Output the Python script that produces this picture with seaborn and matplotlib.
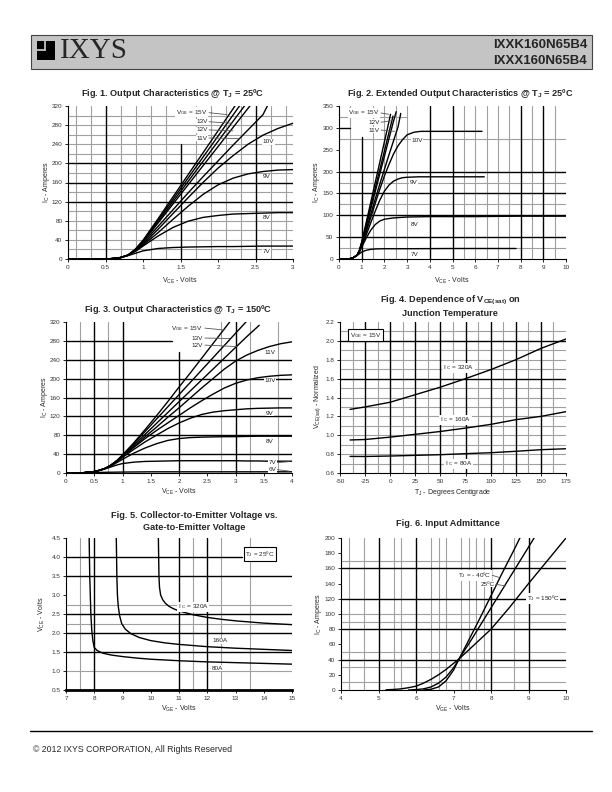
import pandas as pd
import matplotlib
matplotlib.use("Agg")
import matplotlib.pyplot as plt
import seaborn as sns
from matplotlib.patches import Rectangle
from matplotlib.lines import Line2D
from matplotlib.ticker import FuncFormatter

# ========== DATA ==========
# Fig. 1 - output characteristics @ 25C (VCE volts -> IC amperes)
F1_NAMES = ["15V", "14V", "13V", "12V", "11V", "10V", "9V", "8V", "7V"]
F1_X_BUNDLE = [0, 0.5, 0.6, 0.7, 0.8, 0.9, 1.0, 1.2, 1.4, 1.6, 1.8, 2.0, 2.2]
F1_X_FULL = [0, 0.5, 0.6, 0.7, 0.8, 0.9, 1.0, 1.2, 1.4, 1.6, 1.8, 2.0, 2.2, 2.4, 2.6, 2.8, 3.0]
F1_X = [F1_X_BUNDLE + [2.25], F1_X_BUNDLE + [2.3], F1_X_BUNDLE + [2.4], F1_X_BUNDLE + [2.4, 2.45],
        F1_X_BUNDLE + [2.4, 2.6, 2.7], F1_X_FULL, F1_X_FULL, F1_X_FULL, F1_X_FULL]
F1_I = [
    [0, 0, 1, 3, 8, 21, 39, 84, 130, 176, 222, 268, 314, 326],
    [0, 0, 1, 3, 8, 20, 38, 81, 125, 169, 213, 257, 301, 323],
    [0, 0, 1, 3, 8, 20, 37, 78, 120, 162, 204, 246, 288, 330],
    [0, 0, 1, 3, 8, 19, 36, 75, 115, 155, 195, 235, 275, 315, 325],
    [0, 0, 1, 3, 8, 19, 34, 68, 103, 138, 172, 205, 238, 270, 302, 333],
    [0, 0, 1, 3, 8, 18, 31, 62, 95, 128, 160, 190, 216, 240, 259, 273, 284],
    [0, 0, 1, 3, 8, 17, 29, 55, 83, 110, 135, 155, 169, 178, 183, 186, 187],
    [0, 0, 1, 3, 8, 16, 27, 48, 66, 79, 87, 91, 94, 95, 96, 97, 97],
    [0, 0, 1, 3, 7, 12, 17, 22, 24, 25, 25.5, 26, 26, 26.5, 27, 27, 27],
]

# Fig. 2 - extended output characteristics @ 25C
F2_NAMES = ["15V", "13V", "12V", "11V", "10V", "9V", "8V", "7V"]
F2_X_B = [0, 0.4, 0.6, 0.8, 0.9, 1.0, 1.2, 1.4, 1.6, 1.8, 2.0, 2.2]
F2_X = [
    F2_X_B + [2.27],
    F2_X_B + [2.38],
    F2_X_B + [2.4, 2.52],
    F2_X_B + [2.4, 2.6, 2.72],
    F2_X_B + [2.4, 2.6, 2.8, 3.0, 3.3, 3.6, 4.0, 5.0, 6.3],
    F2_X_B + [2.4, 2.6, 2.8, 3.0, 3.5, 4.0, 5.0, 6.4],
    [0, 0.4, 0.6, 0.8, 0.9, 1.0, 1.2, 1.4, 1.6, 1.8, 2.0, 2.4, 3.0, 4.0, 6.0, 8.0, 10.0],
    [0, 0.4, 0.6, 0.8, 0.9, 1.0, 1.2, 1.4, 1.6, 2.0, 3.0, 5.0, 7.8],
]
F2_I = [
    [0, 0, 2, 9, 20, 39, 84, 130, 176, 222, 268, 314, 331],
    [0, 0, 2, 9, 20, 37, 79, 121, 163, 205, 247, 289, 327],
    [0, 0, 2, 9, 19, 36, 75, 115, 155, 195, 235, 275, 315, 337],
    [0, 0, 2, 9, 19, 34, 68, 103, 138, 172, 205, 238, 270, 302, 333],
    [0, 0, 2, 9, 18, 31, 62, 95, 128, 160, 190, 216, 240, 259, 273, 284, 290, 292, 292, 292, 292],
    [0, 0, 2, 9, 17, 29, 55, 83, 110, 135, 155, 169, 178, 183, 186, 187, 188, 188, 188, 188],
    [0, 0, 2, 9, 16, 27, 48, 66, 79, 87, 91, 94, 96, 97, 97, 98, 98],
    [0, 0, 2, 8, 12, 16, 20, 22, 23, 23.5, 23.5, 24, 24],
]

# Fig. 3 - output characteristics @ 150C
F3_NAMES = ["15V", "13V", "12V", "11V", "10V", "9V", "8V", "7V", "6V"]
F3_X_FULL = [0, 0.3, 0.5, 0.6, 0.7, 0.8, 0.9, 1.0, 1.2, 1.4, 1.6, 1.8, 2.0, 2.2, 2.4, 2.6,
             2.8, 3.0, 3.2, 3.4, 3.6, 3.8, 4.0]
F3_X = [F3_X_FULL[:18], F3_X_FULL[:19], F3_X_FULL[:19] + [3.42], F3_X_FULL, F3_X_FULL,
        F3_X_FULL, F3_X_FULL, F3_X_FULL, [0, 0.3, 0.5, 0.7, 1.0, 1.5, 2.0, 3.0, 4.0]]
F3_I = [
    [0, 0.5, 3, 6, 10, 17, 26, 38, 64, 92, 121, 151, 182, 212, 243, 274, 305, 336],
    [0, 0.5, 3, 6, 10, 17, 26, 38, 62, 88, 114, 140, 166, 192, 218, 244, 270, 296, 322],
    [0, 0.5, 3, 6, 10, 17, 26, 37, 59, 82, 105, 128, 151, 174, 197, 220, 243, 266, 289, 313],
    [0, 0.5, 3, 6, 10, 17, 26, 36, 56, 77, 97, 118, 138, 159, 180, 200, 220, 237, 250, 260, 268, 274, 278],
    [0, 0.5, 3, 6, 10, 17, 25, 35, 54, 73, 90, 106, 122, 138, 153, 167, 180, 190, 197, 202, 205, 207, 208],
    [0, 0.5, 3, 6, 10, 16, 24, 33, 50, 66, 80, 94, 106, 116, 124, 129, 132, 134, 136, 137, 137.5, 138, 138],
    [0, 0.5, 3, 6, 10, 15, 22, 29, 42, 53, 62, 69, 73, 75, 76, 76.5, 77, 77, 77.5, 78, 78, 78, 78],
    [0, 0.5, 3, 5.5, 9, 13, 17, 20, 23, 24.5, 25, 25.5, 26, 26, 26, 26, 26, 26, 25.5, 25.5, 25, 25, 25],
    [0, 0.5, 1, 1.5, 2, 2.5, 2.5, 2.5, 2.5],
]

# Fig. 4 - VCE(sat) normalized vs junction temperature
F4_T = [-40, -25, 0, 25, 50, 75, 100, 125, 150, 175]
F4_NAMES = ["320A", "160A", "80A"]
F4_V = [
    [1.274, 1.30, 1.35, 1.43, 1.51, 1.60, 1.695, 1.80, 1.92, 2.02],
    [0.95, 0.955, 0.98, 1.01, 1.04, 1.076, 1.115, 1.165, 1.20, 1.25],
    [0.776, 0.775, 0.78, 0.787, 0.794, 0.805, 0.815, 0.83, 0.847, 0.857],
]

# Fig. 5 - VCE vs VGE
F5_NAMES = ["320A", "160A", "80A"]
F5_VGE = [
    [10.27, 10.28, 10.29, 10.31, 10.35, 10.42, 10.52, 10.65, 10.8, 11.0, 11.5, 12.0, 12.5, 13.0, 14.0, 15.0],
    [8.78, 8.79, 8.8, 8.82, 8.85, 8.9, 8.97, 9.1, 9.3, 9.6, 10.0, 10.5, 11.0, 12.0, 13.0, 14.0, 15.0],
    [7.82, 7.83, 7.84, 7.86, 7.88, 7.91, 7.95, 8.0, 8.1, 8.3, 8.6, 9.0, 9.5, 10.0, 11.0, 12.0, 13.0, 14.0, 15.0],
]
F5_VCE = [
    [4.5, 4.0, 3.5, 3.2, 3.0, 2.88, 2.78, 2.7, 2.64, 2.58, 2.48, 2.41, 2.36, 2.32, 2.26, 2.22],
    [4.5, 4.0, 3.5, 3.0, 2.7, 2.45, 2.25, 2.1, 1.98, 1.88, 1.8, 1.74, 1.7, 1.64, 1.6, 1.57, 1.54],
    [4.5, 4.0, 3.5, 3.0, 2.5, 2.1, 1.8, 1.62, 1.54, 1.47, 1.42, 1.38, 1.34, 1.31, 1.27, 1.24, 1.22, 1.2, 1.18],
]

# Fig. 6 - input admittance
F6_NAMES = ["-40C", "25C", "150C"]
F6_VGE = [
    [6.2, 6.4, 6.6, 6.8, 7.0, 7.15, 7.4, 7.7, 8.0, 8.3, 8.6, 8.8],
    [5.8, 6.0, 6.2, 6.4, 6.6, 6.8, 7.0, 7.15, 7.5, 8.0, 8.5, 9.0, 9.2],
    [5.2, 5.4, 5.6, 5.8, 6.0, 6.2, 6.4, 6.6, 6.8, 7.0, 7.15, 7.5, 8.0, 8.5, 9.0, 9.5, 10.0],
]
F6_IC = [
    [0, 1, 4, 12, 26, 41, 65, 94, 124, 154, 183, 203],
    [0, 0.5, 1.5, 4, 9, 17, 29, 41, 68, 108, 148, 188, 204],
    [0.3, 0.7, 1.5, 3, 5, 9, 14, 20, 27, 35, 41, 57, 80, 109, 140, 170, 200],
]

# ========== STYLE ==========
sns.set_style("white")
plt.rcParams["font.family"] = ["Liberation Sans", "DejaVu Sans"]
plt.rcParams["mathtext.default"] = "regular"
NARROW = ["Liberation Sans Narrow", "Liberation Sans", "DejaVu Sans"]
GRAY = "#a0a0a0"
TICK_COLOR = "#333333"

W, H = 612, 792
fig = plt.figure(figsize=(W / 100, H / 100), dpi=100)


def fx(x):
    return x / W


def fy(y):
    return 1 - y / H


def axes_px(l, t, r, b):
    return fig.add_axes([fx(l), fy(b), (r - l) / W, (b - t) / H])


def draw_curves(ax, names, xs, ys):
    frames = [pd.DataFrame({"x": x, "y": y, "curve": n}) for n, x, y in zip(names, xs, ys)]
    df = pd.concat(frames, ignore_index=True)
    sns.lineplot(data=df, x="x", y="y", hue="curve", estimator=None, sort=False,
                 palette=["black"] * len(names), legend=False, lw=1.0, ax=ax, zorder=3)


def grid(ax, gx=(), bx=(), gy=(), by=()):
    # entries are value or (value, lo, hi) in axes fraction
    def unpack(v):
        return v if isinstance(v, tuple) else (v, 0, 1)
    for v in gx:
        p, lo, hi = unpack(v)
        ax.axvline(p, ymin=lo, ymax=hi, color=GRAY, lw=0.8, zorder=0)
    for v in gy:
        p, lo, hi = unpack(v)
        ax.axhline(p, xmin=lo, xmax=hi, color=GRAY, lw=0.8, zorder=0)
    for v in bx:
        p, lo, hi = unpack(v)
        ax.axvline(p, ymin=lo, ymax=hi, color="black", lw=1.0, zorder=1)
    for v in by:
        p, lo, hi = unpack(v)
        ax.axhline(p, xmin=lo, xmax=hi, color="black", lw=1.0, zorder=1)


def style(ax, xlim, ylim, xt, yt, xfmt="{:g}", yfmt="{:g}"):
    ax.set_xlim(xlim)
    ax.set_ylim(ylim)
    ax.set_xticks(xt)
    ax.set_yticks(yt)
    ax.xaxis.set_major_formatter(FuncFormatter(lambda v, p: xfmt.format(v)))
    ax.yaxis.set_major_formatter(FuncFormatter(lambda v, p: yfmt.format(v)))
    ax.tick_params(labelsize=4.6, length=2, width=0.6, colors="black",
                   labelcolor=TICK_COLOR, pad=2, bottom=True, left=True)
    for s in ("top", "right"):
        ax.spines[s].set_visible(False)
    for s in ("left", "bottom"):
        ax.spines[s].set_color("black")
        ax.spines[s].set_linewidth(0.8)
    ax.set_xlabel("")
    ax.set_ylabel("")
    ax.set_facecolor("white")


def label(ax, x, y, s, ha="center", box=False):
    bb = dict(facecolor="white", edgecolor="black" if box else "none",
              pad=1.2 if box else 0.4, lw=0.8)
    ax.text(x, y, s, ha=ha, va="center", fontsize=4.6, color="#222222", bbox=bb, zorder=4)


def leader(ax, start, end):
    ax.annotate("", xy=end, xytext=start,
                arrowprops=dict(arrowstyle="-", lw=0.6, color="#555555", shrinkA=0, shrinkB=0),
                zorder=4)


def ftext(x, y, s, size=5, **kw):
    fig.text(fx(x), fy(y), s, fontsize=size, va="center", **kw)


def title(x, y, s):
    ftext(x, y, s, size=6.6, ha="center", weight="bold", family=NARROW)


# ========== HEADER ==========
fig.add_artist(Rectangle((fx(31), fy(69)), (592 - 31) / W, (69 - 35) / H,
                         transform=fig.transFigure, facecolor="#c4c4c4",
                         edgecolor="#444444", lw=0.8))
fig.add_artist(Rectangle((fx(37), fy(59.5)), 18 / W, 18.5 / H, transform=fig.transFigure,
                         facecolor="black", edgecolor="none"))
fig.add_artist(Line2D([fx(45), fx(45)], [fy(41), fy(49.5)], transform=fig.transFigure,
                      color="#c4c4c4", lw=1.3))
fig.add_artist(Line2D([fx(37), fx(45)], [fy(49.5), fy(49.5)], transform=fig.transFigure,
                      color="#c4c4c4", lw=1.3))
fig.text(fx(60), fy(51), "IXYS", fontsize=21, family=["Liberation Serif", "DejaVu Serif"],
         va="center", ha="left")
ftext(587, 45, "IXXK160N65B4", size=9.5, ha="right", weight="bold")
ftext(587, 61, "IXXX160N65B4", size=9.5, ha="right", weight="bold")

# ========== FIG 1 ==========
ax1 = axes_px(68, 106, 293, 259)
grid(ax1,
     gx=[0.1, 0.3, 0.7, 0.9, 1.1, 1.3, 1.7, 1.9, 2.1, 2.3, 2.7, 2.9],
     bx=[0.5, 2.5, (1.5, 0, 0.75)],
     gy=[20, 40, 60, 80, 100, 140, 180, 220, 240, 260, 280, 300],
     by=[120, 160, 200])
draw_curves(ax1, F1_NAMES, F1_X, F1_I)
style(ax1, (0, 3), (0, 320), [0, 0.5, 1, 1.5, 2, 2.5, 3], range(0, 321, 40))
label(ax1, 1.86, 307, "V$_{GE}$ = 15V", ha="right")
label(ax1, 1.86, 287, "13V", ha="right")
label(ax1, 1.86, 270, "12V", ha="right")
label(ax1, 1.86, 253, "11V", ha="right")
leader(ax1, (1.88, 306), (2.12, 302))
leader(ax1, (1.88, 287), (2.18, 284))
leader(ax1, (1.88, 270), (2.2, 268))
leader(ax1, (1.88, 253), (2.28, 252))
label(ax1, 2.67, 245, "10V")
label(ax1, 2.65, 172, "9V")
label(ax1, 2.65, 86, "8V")
label(ax1, 2.65, 15, "7V")
title(172, 93, r"Fig. 1. Output Characteristics @ T$_J$ = 25ºC")
ftext(46, 182, "I$_C$ - Amperes", rotation=90, ha="center")
ftext(180, 281, "V$_{CE}$ - Volts", ha="center")

# ========== FIG 2 ==========
ax2 = axes_px(339, 106, 566, 259)
grid(ax2,
     gx=[0.5, 1.5, 2, 2.5, 3, 5.5, 6, 6.5, 7, 7.5, 8.5, 9.5],
     bx=[(1, 0, 0.8), 4, 5, 8, 9],
     gy=[25, 125, 175, 275, (325, 0, 0.3)],
     by=[50, 100, 150, 200, (300, 0, 0.05)])
draw_curves(ax2, F2_NAMES, F2_X, F2_I)
style(ax2, (0, 10), (0, 350), range(0, 11), range(0, 351, 50))
label(ax2, 1.8, 334, "V$_{GE}$ = 15V", ha="right")
label(ax2, 1.8, 313, "12V", ha="right")
label(ax2, 1.8, 295, "11V", ha="right")
leader(ax2, (1.85, 334), (2.2, 331))
leader(ax2, (1.85, 313), (2.32, 316))
leader(ax2, (1.85, 295), (2.45, 292))
label(ax2, 3.43, 272, "10V")
label(ax2, 3.3, 174, "9V")
label(ax2, 3.35, 80, "8V")
label(ax2, 3.35, 10, "7V")
title(460, 93, r"Fig. 2. Extended Output Characteristics @ T$_J$ = 25ºC")
ftext(316, 182, "I$_C$ - Amperes", rotation=90, ha="center")
ftext(452, 281, "V$_{CE}$ - Volts", ha="center")

# ========== FIG 3 ==========
ax3 = axes_px(66, 322, 292, 473)
grid(ax3,
     gx=[0.25, 0.75, 2.75, 3.25, 3.75],
     bx=[0.5, 1.0, 3.0, (2.0, 0, 0.8)],
     by=[40, 80, 120, 160, 200, 240, (280, 0, 0.47)])
draw_curves(ax3, F3_NAMES, F3_X, F3_I)
style(ax3, (0, 4), (0, 320), [0, 0.5, 1, 1.5, 2, 2.5, 3, 3.5, 4], range(0, 321, 40))
label(ax3, 2.42, 307, "V$_{GE}$ = 15V", ha="right")
label(ax3, 2.42, 286, "13V", ha="right")
label(ax3, 2.42, 271, "12V", ha="right")
leader(ax3, (2.46, 307), (2.8, 303))
leader(ax3, (2.46, 286), (2.9, 285))
leader(ax3, (2.46, 271), (3.02, 268))
label(ax3, 3.61, 256, "11V")
label(ax3, 3.61, 195, "10V")
label(ax3, 3.61, 127, "9V")
label(ax3, 3.61, 66, "8V")
label(ax3, 3.65, 22, "7V")
label(ax3, 3.65, 7, "6V")
leader(ax3, (3.74, 22), (3.95, 24))
leader(ax3, (3.74, 7), (3.95, 4))
title(178, 310, r"Fig. 3. Output Characteristics @ T$_J$ = 150ºC")
ftext(45, 397, "I$_C$ - Amperes", rotation=90, ha="center")
ftext(179, 492, "V$_{CE}$ - Volts", ha="center")

# ========== FIG 4 ==========
ax4 = axes_px(340, 322, 566, 473)
grid(ax4,
     gx=[-37.5, -12.5, 12.5, 37.5, 62.5, 87.5, 112.5, 137.5, 162.5],
     bx=[-25, 0, 25, 50, 75, 100, 125, 150],
     gy=[0.7, 0.8, 0.9, 1.0, 1.1, 1.2, 1.3, 1.4, 1.5, 1.7, 1.8, 1.9, 2.1],
     by=[1.6, 2.0])
draw_curves(ax4, F4_NAMES, [F4_T] * 3, F4_V)
style(ax4, (-50, 175), (0.6, 2.2), range(-50, 176, 25), [0.6 + 0.2 * k for k in range(9)],
      yfmt="{:.1f}")
label(ax4, -40, 2.06, "V$_{GE}$ = 15V", ha="left", box=True)
label(ax4, 68, 1.716, "I $_C$ = 320A")
label(ax4, 65, 1.165, "I $_C$ = 160A")
label(ax4, 68, 0.70, "I $_C$ = 80A")
title(450, 300, r"Fig. 4. Dependence of V$_{CE(sat)}$ on")
title(450, 313, "Junction Temperature")
ftext(318, 397, "V$_{CE(sat)}$ - Normalized", rotation=90, ha="center")
ftext(453, 492, "T$_J$ - Degrees Centigrade", ha="center")

# ========== FIG 5 ==========
ax5 = axes_px(66, 538, 292, 690)
grid(ax5,
     gx=[7.5, 11.5, 12.5, 13.5],
     bx=[8, 11, 12],
     gy=[1.0, 2.25, 2.75],
     by=[1.5, 2.0, 2.5, 3.5, (4.0, 0, 0.78)])
draw_curves(ax5, F5_NAMES, F5_VGE, F5_VCE)
style(ax5, (7, 15), (0.5, 4.5), range(7, 16), [0.5 * k for k in range(1, 10)], yfmt="{:.1f}")
ax5.spines["bottom"].set_linewidth(2.0)
label(ax5, 13.87, 4.08, "T$_J$ = 25ºC", box=True)
label(ax5, 11.5, 2.69, "I $_C$ = 320A")
label(ax5, 12.45, 1.8, "160A")
label(ax5, 12.35, 1.07, "80A")
title(194, 516, "Fig. 5. Collector-to-Emitter Voltage vs.")
title(194, 528, "Gate-to-Emitter Voltage")
ftext(42, 614, "V$_{CE}$ - Volts", rotation=90, ha="center")
ftext(179, 709, "V$_{GE}$ - Volts", ha="center")

# ========== FIG 6 ==========
ax6 = axes_px(341, 538, 566, 690)
grid(ax6,
     gx=[4.2, 4.6, 5.4, 5.6, 6.4, 6.6, 6.8, 7.2, 7.4, 7.6, 7.8, 8.6],
     bx=[5, 6, 8, 9],
     gy=[10, 30, 50, 90, 100, 170],
     by=[40, 80, 120, 160])
draw_curves(ax6, F6_NAMES, F6_VGE, F6_IC)
style(ax6, (4, 10), (0, 200), range(4, 11), range(0, 201, 20))
label(ax6, 8.0, 151, "T$_J$ = - 40ºC", ha="right")
label(ax6, 8.1, 139, "25ºC", ha="right")
leader(ax6, (8.03, 151), (8.22, 148))
leader(ax6, (8.13, 139), (8.38, 137))
label(ax6, 8.95, 121, "T$_J$ = 150ºC", ha="left")
title(448, 524, "Fig. 6. Input Admittance")
ftext(318, 614, "I$_C$ - Amperes", rotation=90, ha="center")
ftext(453, 709, "V$_{GE}$ - Volts", ha="center")

# ========== FOOTER ==========
fig.add_artist(Line2D([fx(30), fx(592)], [fy(731), fy(731)], transform=fig.transFigure,
                      color="black", lw=1.0))
ftext(33, 750, "© 2012 IXYS CORPORATION, All Rights Reserved", size=6.3, ha="left")

fig.savefig("out.png", dpi=100)
